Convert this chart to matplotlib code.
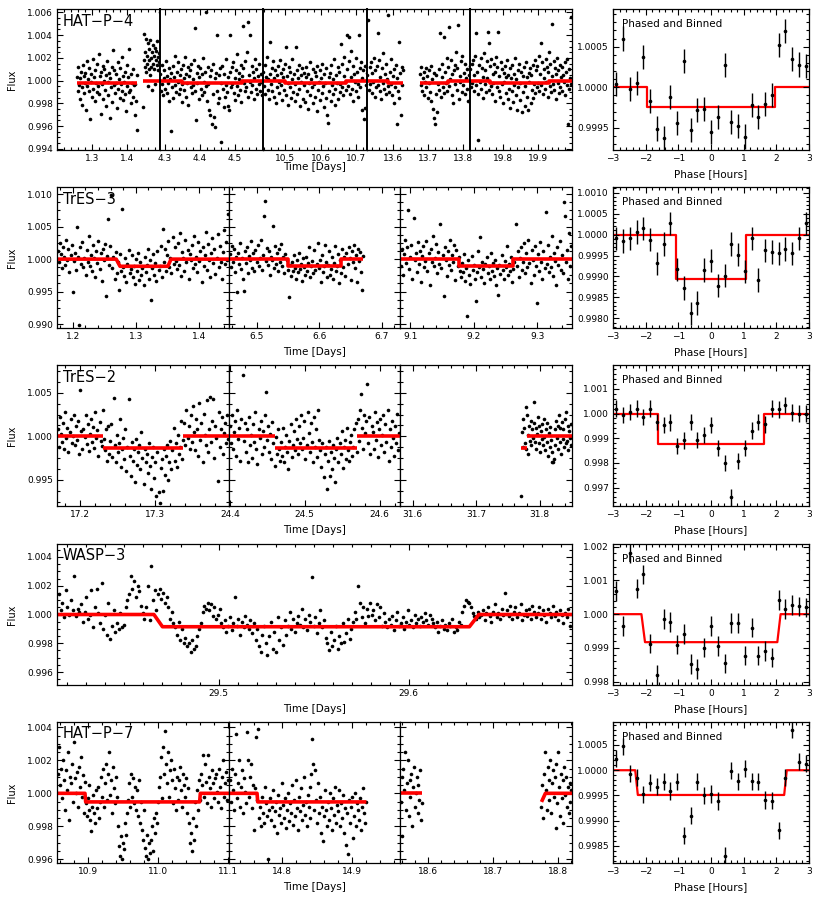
import numpy as np
import matplotlib.pyplot as plt
from matplotlib.ticker import MultipleLocator, AutoMinorLocator, FormatStrFormatter

# ---------------- light curve data: flux offsets from 1.0 in units of 1e-4 ----------------
# HAT-P-4
hatp4_windows = [(1.201, 1.495), (4.286, 4.580), (10.437, 10.731), (13.526, 13.820), (19.705, 19.999)]
hatp4_s1a = ("3 -9 12 -4 -16 2 8 -21 -6 14 4 -11 -2 7 -26 17 -5 1 -9 11 -34 -1 6 -14 19 -7 3 -18 9 -2 "
             "15 -10 -5 23 -12 4 -29 8 -3 13 -16 0 10 -8 -22 5 17 -1 -13 7 -33 2 -6 12 -19 27 -4 9 -11 -2 "
             "6 -24 16 -7 1 -15 11 -3 -9 21 -17 4 -1 -12 8 -27 14 -5 3 -10 28 -8 -20 6 -2 -14 10 -4 -30 -3 -18 5 -43")
hatp4_s1b = "-23 18 41 12 25 8 37 15 22 -5 33 10 28 18 5 36 20 12 -8 25 31 15 22 10 29 -3 18 26 14 35 9 21 16 24 60"
hatp4_s2 = ("6 -9 14 -3 -13 9 2 -7 17 -11 4 -2 -18 11 1 -44 7 -6 13 -15 3 22 -4 -10 8 -1 16 -12 5 -7 "
            "10 -3 -19 14 2 -8 21 -14 6 -2 12 -21 4 9 -6 15 -11 1 -4 18 46 -9 -35 7 -2 13 -16 3 11 -7 "
            "-13 6 20 -1 -10 8 -5 60 -18 12 -3 -26 4 -30 9 -38 15 -12 -32 2 -41 7 -9 40 -20 5 -15 11 -2 -54 "
            "13 -7 -23 6 -14 19 -4 -10 3 -22 -26 8 40 -6 12 -3 16 -11 2 -17 9 23 -5 -13 7 1 -8 14 -19 4 "
            "11 48 -2 -9 17 -6 25 52 -14 5 40 -1 -10 13 -4 8 -16 2 19 -7 10 -12 4 -3 15 -9 6 -1 -13 7")
hatp4_s3 = ("8 -5 14 -12 3 21 -8 1 -16 34 6 -3 11 -9 17 -14 2 9 -20 5 -6 13 -1 -11 18 -4 7 -17 3 10 "
            "-8 15 30 -13 4 -2 -21 12 -6 8 -15 1 19 -10 6 -3 -18 30 9 -12 2 -7 14 -22 5 -1 11 -16 -4 7 "
            "-19 3 12 -9 -25 6 -2 16 -13 1 -6 10 -20 -3 8 -14 4 -27 13 -8 -1 9 -17 2 -11 15 -5 -23 6 -2 "
            "11 -15 -30 -37 3 -9 7 -18 14 -4 -12 1 19 -7 -21 5 -2 12 -16 8 -10 -3 32 -6 15 -13 4 21 -1 -8 "
            "10 40 -5 17 38 -12 3 26 -7 13 -18 6 -1 20 -9 8 -3 -14 40 11 -6 16 -26 2 9 -34 -24 13 -4 7")
hatp4_s4a = ("5 53 -8 12 -3 16 -11 7 -1 20 -14 9 -6 13 42 -4 18 -9 3 -16 11 -2 24 -7 6 -12 15 1 -5 58 "
             "-10 8 -3 19 -13 4 -20 10 -6 14 -38 2 -9 34 -15 7 -30 12 -4 9")
hatp4_s4b = ("6 -4 12 -9 2 8 -13 -1 11 -6 4 -15 9 -2 -10 13 -18 1 -25 7 -33 -38 -12 5 -28 -3 10 -8 42 -14 "
             "3 15 -6 38 -11 8 -2 20 -9 12 47 -5 1 18 -13 6 -20 9 14 -3 25 -8 11 49 -16 4 -1 17 -10 22 "
             "-4 7 -12 15 2 -7 10 -18 5 13")
hatp4_s5 = ("10 -6 15 -2 18 -9 5 22 -4 42 8 -12 -52 14 -1 20 -7 11 3 -15 24 -3 9 -10 17 2 43 33 -8 13 "
            "-5 19 -12 6 -2 15 -18 8 21 -6 12 43 -9 4 -14 16 -3 10 -20 7 -1 13 -11 3 18 -16 5 -7 11 -24 "
            "2 14 -9 -19 6 -4 20 -13 1 -26 9 -6 15 -2 -17 8 -28 4 -10 12 -22 -5 16 -14 3 -26 7 -1 11 -20 "
            "5 -8 14 -15 -3 18 -11 9 -6 13 -2 22 -9 6 33 -4 16 -12 10 2 -7 19 -1 12 -14 8 25 -5 15 -10 "
            "50 4 -3 17 -8 11 -16 6 20 -2 9 -11 14 -6 3 12 -9 5 -1 16 -13 8 -4 19 -38 10 -7 2 56 -3")
hatp4_chunks = [(0, 1.258, 1.430, hatp4_s1a), (0, 1.447, 1.494, hatp4_s1b), (1, 4.287, 4.579, hatp4_s2),
                (2, 10.438, 10.730, hatp4_s3), (3, 13.527, 13.629, hatp4_s4a), (3, 13.677, 13.819, hatp4_s4b),
                (4, 19.706, 19.997, hatp4_s5)]
hatp4_model = [(0, [1.258, 1.430], [0.99975, 0.99975]), (0, [1.447, 1.495], [1.0, 1.0]),
               (1, [4.286, 4.349, 4.349, 4.520, 4.520, 4.580], [1.0, 1.0, 0.99975, 0.99975, 1.0, 1.0]),
               (2, [10.437, 10.500, 10.500, 10.671, 10.671, 10.731], [1.0, 1.0, 0.99975, 0.99975, 1.0, 1.0]),
               (3, [13.526, 13.586, 13.586, 13.629], [1.0, 1.0, 0.99975, 0.99975]),
               (3, [13.677, 13.757, 13.757, 13.820], [0.99975, 0.99975, 1.0, 1.0]),
               (4, [19.705, 19.762, 19.762, 19.934, 19.934, 19.999], [1.0, 1.0, 0.99975, 0.99975, 1.0, 1.0])]

# TrES-3
tres3_windows = [(1.175, 1.448), (6.456, 6.729), (9.084, 9.355)]
tres3_s1 = ("12 -5 25 8 -14 18 3 -9 30 -2 15 -20 6 22 -50 -3 10 -16 50 4 -101 19 -8 27 -12 2 -24 14 -4 35 -10 7 "
            "-18 21 1 -27 12 -6 28 -15 9 -33 16 -1 24 -57 5 62 -9 20 99 -14 3 -30 11 -21 -5 -47 8 -19 77 -12 -26 2 "
            "-35 -8 14 -22 -15 6 -28 -11 -38 0 -18 10 -32 -4 -24 -13 -40 3 -20 -9 16 -30 -2 -63 -14 8 -25 -6 -33 12 -17 -10 "
            "20 -28 47 -4 15 -19 6 28 -12 1 -22 34 -7 18 -3 -15 25 -9 40 -26 11 2 -18 30 -5 14 -31 8 -1 22 -13 36 "
            "-8 4 -20 27 -3 12 -35 19 -10 6 41 -16 24 -2 -27 9 33 -6 16 -23 2 38 -12 20 -4 -30 11 45 -8 27 -1 70")
tres3_s2 = ("8 -12 20 -4 15 -20 3 -50 10 -8 25 -15 1 -30 -49 12 -6 18 -22 5 -2 28 -13 9 -18 14 -5 22 -10 2 30 -16 "
            "6 66 89 -3 17 -9 12 -24 4 -1 51 -14 20 -7 10 -19 15 -4 24 -11 3 -21 8 -2 -16 -58 -9 -26 -4 -18 6 -13 "
            "-30 -2 -20 10 -15 -7 -33 1 -12 -24 4 -19 -6 18 -28 -10 -3 -22 14 -17 -8 25 -14 -1 -35 6 -20 -11 22 -4 -27 -9 "
            "12 -25 -15 3 -31 -6 20 -18 -10 8 -37 -2 -21 15 -12 4 -26 10 -8 18 2 -32 13 -5 22 -14 7 -35 16 -3 11 -20 -48 5")
tres3_s3 = ("-10 15 -25 8 30 -6 18 75 -15 4 22 -30 64 -2 10 -20 26 -8 13 -35 5 20 -12 -3 28 -18 9 -40 16 -5 35 -10 "
            "2 24 -22 11 -7 54 -14 6 -56 19 -1 -26 13 -9 30 -17 7 -4 22 -32 14 -11 3 -18 -28 -6 -20 8 -34 -13 -88 -2 "
            "-24 -38 5 -16 -9 -30 -64 -20 12 -12 34 -27 -4 -15 -36 -8 3 -22 -11 -31 10 -18 -6 -26 -1 -40 -14 -55 -9 -23 6 -17 "
            "-30 -3 -12 20 -25 -8 -19 4 -35 -15 -5 54 -10 12 -28 2 18 -16 -4 25 -22 9 -12 30 -6 -36 14 -2 -25 20 -10 -67 "
            "8 -18 27 -5 -30 12 -14 72 -8 22 -20 4 -12 35 -26 10 -3 -40 18 -9 28 -16 6 -22 88 66 -5 14 -30 40 -11 20")
tres3_chunks = [(0, 1.176, 1.447, tres3_s1), (1, 6.457, 6.670, tres3_s2), (2, 9.085, 9.354, tres3_s3)]
tres3_model = [(0, [1.175, 1.269, 1.275, 1.351, 1.356, 1.448], [1.0, 1.0, 0.9989, 0.9989, 1.0, 1.0]),
               (1, [6.456, 6.550, 6.550, 6.635, 6.635, 6.670], [1.0, 1.0, 0.9989, 0.9989, 1.0, 1.0]),
               (2, [9.084, 9.177, 9.177, 9.262, 9.262, 9.355], [1.0, 1.0, 0.9989, 0.9989, 1.0, 1.0])]

# TrES-2
tres2_windows = [(17.169, 17.399), (24.399, 24.627), (31.580, 31.851)]
tres2_s1 = ("8 -12 22 3 -6 15 -15 28 -2 10 -18 5 20 -8 1 25 -10 12 -4 18 -20 53 6 -14 9 -1 24 -9 14 -17 3 20 "
            "-6 11 -13 28 -2 7 -22 16 -5 -11 30 -3 -16 8 -28 12 -20 -5 14 -24 44 -10 -30 2 -18 -8 20 -35 -14 -2 -26 9 "
            "-40 -12 43 -22 -45 -6 -28 -15 -52 -3 -33 -18 -10 -38 5 -25 -55 -14 -30 -20 -42 -8 -34 -60 -24 -12 -48 -30 -69 -18 -64 -77 "
            "-36 -26 -63 -15 -44 -22 -10 -50 -30 -5 -38 -16 10 -28 -8 -35 2 -20 -12 18 -26 -4 15 -10 30 -2 12 -14 25 -6 35 5 "
            "-16 20 8 -22 38 -4 15 -30 26 2 -10 42 -18 9 45 -6 18 43 -25 12 -2 -51 28 -12 8 22 -20 4 15 -8 25 -3")
tres2_s2 = ("12 -8 25 -15 5 18 -22 30 -3 10 -28 20 71 -5 15 -18 8 -30 22 -10 2 -25 14 -6 28 -14 -32 9 -2 18 -20 6 "
            "-12 24 51 -4 12 -18 3 -26 16 -8 -34 -1 -20 8 -14 -28 -6 -22 10 -30 -12 2 -18 -38 -5 14 -24 -10 6 -16 20 -3 "
            "-20 12 -8 25 -14 -2 18 -26 -10 28 4 -18 15 -6 -30 22 -12 8 -24 30 -4 -16 -35 -8 -47 -20 -12 -60 -28 -5 -45 -18 "
            "-38 -10 -25 -52 -14 -2 -30 -8 -20 6 -36 -12 -4 -26 10 -16 -28 -6 2 -22 -12 8 15 -18 20 -5 30 49 10 -14 25 4 "
            "18 60 -8 22 -20 12 5 -15 28 -4 16 -24 9 20 -10 2 24 -18 14 -6 30 -28 8 -12 18 -2 -22 12 -8 26 -16 4")
tres2_s3 = ("-69 5 -12 20 10 -8 34 -15 25 2 -20 12 -5 18 -10 8 -2 15 40 -6 10 -14 3 22 -8 12 -18 6 -3 14 "
            "-10 20 -1 -16 9 -6 15 -22 4 -12 11 -4 -18 -30 -30 -26 8 -10 18 -2 12 -14 24 -6 10 -20 16 -3 8 -12 "
            "20 -8 28 -5 12 -16 6 -2 14 -10")
tres2_chunks = [(0, 17.170, 17.398, tres2_s1), (1, 24.400, 24.626, tres2_s2), (2, 31.771, 31.850, tres2_s3)]
tres2_model = [(0, [17.169, 17.230], [1.0, 1.0]), (0, [17.230, 17.338], [0.9987, 0.9987]), (0, [17.338, 17.399], [1.0, 1.0]),
               (1, [24.399, 24.460], [1.0, 1.0]), (1, [24.460, 24.570], [0.9987, 0.9987]), (1, [24.570, 24.627], [1.0, 1.0]),
               (2, [31.771, 31.780], [0.9987, 0.9987]), (2, [31.780, 31.851], [1.0, 1.0])]

# WASP-3
wasp3_windows = [(29.415, 29.686)]
wasp3_s1 = ("14 3 8 -2 17 5 0 10 3 27 -1 4 2 7 -5 2 12 -3 0 17 -9 5 18 1 -6 22 -10 0 -14 8 -17 -8 3 -12 -6 -10 1 -9 -7 5 "
            "10 14 27 18 23 12 20 16 6 1 -3 5 20 -4 34 10 17 3 14 18 11 15 8 12 5 -3 2 -6 -9 -14 -5 -18 -10 -20 -16 -22 -20 -26 -18 -24 "
            "-22 -15 -10 -6 2 6 4 8 3 7 -1 5 -3 0 4 -6 -9 -4 -12 -8 -2 -11 -6 12 -8 -3 -14 -5 -9 -1 -7 -10 -4 -13 -6 -18 -10 -22 -26 -14 "
            "-8 -20 -28 -15 -5 -24 -12 -26 -2 -18 -9 -21 -4 -14 -8 2 -10 -3 -12 -6 -1 -7 4 -9 -3 -11 0 -5 26 -8 -2 -13 -6 3 -9 -4 -16 -20 -25 -12 "
            "-22 -18 -8 -24 -15 -20 -6 -19 -13 -3 -17 -10 -5 2 -3 20 8 -2 5 -6 4 -1 8 0 3 -4 7 -2 5 -8 1 -5 -9 -3 -7 -1 -11 -4 2 -8 "
            "-6 -2 -10 -5 3 -7 -4 -9 0 -6 -3 -8 -2 -5 1 -4 -7 0 -3 -6 -9 -5 -12 -8 -4 -10 -7 -11 -6 -8 -3 -12 -9 -11 -5 -7 2 6 10 9 "
            "8 5 1 -1 -3 2 -2 0 3 -4 1 5 -1 -5 2 7 -2 1 -3 4 0 15 3 -1 6 -3 2 5 -2 1 7 -4 0 3 -1 4 -3 6 2 -2 "
            "1 5 -3 3 0 -5 4 1 -2 6 -1 2 -4 3 0 -6 1 -2 4 -8")
wasp3_chunks = [(0, 29.416, 29.685, wasp3_s1)]
wasp3_model = [(0, [29.415, 29.466, 29.4705, 29.632, 29.637, 29.686], [1.0, 1.0, 0.99915, 0.99915, 1.0, 1.0])]

# HAT-P-7
hatp7_windows = [(10.856, 11.102), (14.724, 14.968), (18.557, 18.822)]
hatp7_s1 = ("12 28 5 15 -3 20 8 -10 14 2 25 -16 10 6 18 -5 31 9 0 13 -8 16 4 22 -2 11 -12 7 -6 -14 -3 -10 5 -16 -23 -8 -1 -12 -18 2 "
            "-9 4 -15 -5 10 -2 15 -8 6 18 -4 12 25 -1 8 -12 16 3 -6 10 -2 -20 -32 -38 -26 -40 -30 -34 -18 -25 -12 -4 6 -8 12 -2 9 -6 4 -10 "
            "2 -14 8 -18 -5 -22 -28 -10 -33 -38 -25 -40 -30 -36 -28 -20 -35 -15 -24 -12 -18 -5 4 10 22 -3 28 12 38 18 6 25 -2 14 20 8 -6 15 3 -10 "
            "10 -4 8 16 2 -8 12 5 -2 9 -12 3 -18 -30 -24 -35 -15 -28 -5 -20 2 -10 8 -4 12 5 23 -2 18 7 -6 23 10 3 -8 14 6 -3 9 12 "
            "1 -5 15 4 -9 10 20 -2 6 13 -4 8")
hatp7_s2 = ("8 -5 15 2 -10 12 36 -3 6 20 -8 4 14 -12 9 1 -6 37 20 -2 10 18 -9 5 -22 3 34 -4 39 -15 -8 -20 -2 -12 -18 4 -6 -14 -40 -10 "
            "-3 -16 -8 2 -20 -11 -5 -24 -1 -13 -9 -18 6 -7 -15 -3 -21 -10 0 -17 -6 -12 5 -19 -4 -14 8 -9 -22 -2 -11 3 -16 -7 10 -13 -5 -20 -1 -8 "
            "4 -15 12 33 18 -10 14 -4 -18 6 -12 -2 -24 -8 -29 -14 2 -10 -20 -5 -16 0 -9 -22 -3 -13 4 -18 -7 -11 2 -20 -6 -15 -1 -24 -9 -31 -12 -37 "
            "-4 -18 -8 -2 -27 -14 0 -20 -6 -10 -16 -3 -22 -8 3 -12 -18 -5")
hatp7_s3a = "-5 10 -26 15 2 25 -10 6 20 -14 8 -2 12 -20 4 16 -8 0 10 -12 5 -4 14 -16 -6"
hatp7_s3b = "-8 5 -15 12 25 2 -10 16 8 -4 20 -12 6 14 -2 10 -21 18 -6 25 4 -14 12 -3 8 -18 16 -1 10 -8 4 -12 6 -5 2"
hatp7_chunks = [(0, 10.857, 11.100, hatp7_s1), (1, 14.725, 14.920, hatp7_s2),
                (2, 18.558, 18.591, hatp7_s3a), (2, 18.775, 18.821, hatp7_s3b)]
hatp7_model = [(0, [10.856, 10.896, 10.897, 11.060, 11.061, 11.102], [1.0, 1.0, 0.99948, 0.99948, 1.0, 1.0]),
               (1, [14.724, 14.764, 14.765, 14.920], [1.0, 1.0, 0.99948, 0.99948]),
               (2, [18.557, 18.591], [1.0, 1.0]),
               (2, [18.775, 18.781, 18.822], [0.99948, 1.0, 1.0])]

# ---------------- phased and binned data ----------------
phase_bins = np.linspace(-2.897, 2.897, 29)
hatp4_phase = [1.00004, 1.00060, 0.99998, 1.00005, 1.00037, 0.99983, 0.99949, 0.99937, 0.99988, 0.99956,
               1.00032, 0.99947, 0.99972, 0.99973, 0.99945, 0.99963, 1.00027, 0.99957, 0.99952, 0.99939,
               0.99978, 0.99963, 0.99979, 0.99990, 1.00052, 1.00069, 1.00035, 1.00028, 1.00026]
tres3_phase = [0.99991, 0.99985, 0.99991, 1.00006, 1.00015, 0.99988, 0.99931, 0.99978, 1.00027, 0.99917,
               0.99873, 0.99812, 0.99837, 0.99915, 0.99938, 0.99878, 0.99902, 0.99978, 0.99952, 0.99912,
               0.99991, 0.99892, 0.99962, 0.99958, 0.99955, 0.99965, 0.99955, 0.99991, 1.00027]
tres2_phase = [1.00020, 0.99993, 1.00007, 1.00020, 0.99987, 1.00020, 0.99967, 0.99953, 0.99964, 0.99867,
               0.99891, 0.99967, 0.99893, 0.99913, 0.99953, 0.99860, 0.99800, 0.99660, 0.99807, 0.99860,
               0.99931, 0.99967, 0.99956, 1.00020, 1.00017, 1.00036, 1.00004, 1.00000, 1.00000]
wasp3_phase = [1.00069, 0.99965, 1.00180, 1.00076, 1.00118, 0.99913, 0.99820, 0.99986, 0.99977, 0.99910,
               0.99942, 0.99852, 0.99837, 0.99901, 0.99965, 0.99906, 0.99854, 0.99974, 0.99974, 0.99877,
               0.99960, 0.99877, 0.99891, 0.99871, 1.00042, 1.00016, 1.00027, 1.00023, 1.00020]
hatp7_phase = [1.00023, 1.00047, 0.99993, 0.99985, 0.99952, 0.99975, 0.99967, 0.99977, 0.99959, 0.99977,
               0.99870, 0.99910, 0.99977, 0.99950, 0.99953, 0.99939, 0.99830, 0.99999, 0.99978, 1.00003,
               0.99978, 0.99977, 0.99941, 0.99940, 0.99881, 0.99985, 1.00080, 1.00017, 1.00013]
phase_err = {'HAT-P-4': 0.00015, 'TrES-3': 0.00028, 'TrES-2': 0.00033, 'WASP-3': 0.00029, 'HAT-P-7': 0.00017}
# box models: contact points (hours) and in-transit level
phase_model = {'HAT-P-4': ([-1.95, -1.95, 1.95, 1.95], 0.99976),
               'TrES-3': ([-1.06, -1.06, 1.06, 1.06], 0.99895),
               'TrES-2': ([-1.62, -1.62, 1.62, 1.62], 0.99877),
               'WASP-3': ([-2.13, -2.02, 2.03, 2.13], 0.99917),
               'HAT-P-7': ([-2.32, -2.24, 2.24, 2.32], 0.99951)}


def flux(s):
    return 1.0 + np.array(s.split(), dtype=float) * 1e-4


W, H = 818, 900
PH = 141
fig = plt.figure(figsize=(W / 100, H / 100), dpi=100)


def box(x0, top, w, h):
    return [x0 / W, 1 - (top + h) / H, w / W, h / H]


def style(ax):
    ax.tick_params(which='both', direction='in', top=True, right=True, labelsize=6.5, width=0.8)
    ax.tick_params(which='major', length=4, pad=3)
    ax.tick_params(which='minor', length=2)
    for s in ax.spines.values():
        s.set_linewidth(0.9)


def light_curve(top, edges, windows, chunks, model, ylim, ystep, name, xminor=5, gap=24, plain=False):
    n = len(windows)
    for i, (t0, t1) in enumerate(windows):
        ax = fig.add_axes(box(edges[i], top, edges[i + 1] - edges[i], PH))
        for seg, a, b, s in chunks:
            if seg == i:
                f = flux(s)
                ax.plot(np.linspace(a, b, len(f)), f, 'o', ms=2.6, color='k', mec='none')
        for seg, ts, fs in model:
            if seg == i:
                ax.plot(ts, fs, color='red', lw=2.6, solid_capstyle='butt')
        ax.set_xlim(t0, t1)
        ax.set_ylim(*ylim)
        ax.xaxis.set_major_locator(MultipleLocator(0.1))
        ax.xaxis.set_minor_locator(AutoMinorLocator(xminor))
        ax.xaxis.set_major_formatter(FormatStrFormatter('%.1f'))
        ax.yaxis.set_major_locator(MultipleLocator(ystep))
        ax.yaxis.set_minor_locator(AutoMinorLocator(4))
        ax.yaxis.set_major_formatter(FormatStrFormatter('%.3f'))
        style(ax)
        if i > 0:
            ax.tick_params(labelleft=False)
            if plain:
                ax.tick_params(which='both', left=False)
                ax.spines['left'].set_linewidth(1.4)
        if i < n - 1 and plain:
            ax.tick_params(which='both', right=False)
        if i == 0:
            ax.text(63, H - (top + 12), name.replace('-', '\u2212'), transform=None, fontsize=10.5,
                    va='center', ha='left')
    xc = (edges[0] + edges[-1]) / 2
    fig.text(xc / W, 1 - (top + PH + gap) / H, 'Time [Days]', ha='center', va='center', fontsize=7.5)
    fig.text(12 / W, 1 - (top + PH / 2) / H, 'Flux', rotation=90, ha='center', va='center', fontsize=7)


def phased(top, name, values, ylim, ystep, fmt):
    ax = fig.add_axes(box(613, top, 196, PH))
    (c1, c2, c3, c4), depth = phase_model[name]
    ax.plot([-3, c1, c2, c3, c4, 3], [1, 1, depth, depth, 1, 1], color='red', lw=1.6, zorder=1)
    ax.errorbar(phase_bins, values, yerr=phase_err[name], fmt='o', ms=1.6, color='k',
                elinewidth=1.0, capsize=0, zorder=2)
    ax.set_xlim(-3, 3)
    ax.set_ylim(*ylim)
    ax.xaxis.set_major_locator(MultipleLocator(1))
    ax.xaxis.set_minor_locator(AutoMinorLocator(5))
    ax.yaxis.set_major_locator(MultipleLocator(ystep))
    ax.yaxis.set_minor_locator(AutoMinorLocator(5))
    ax.yaxis.set_major_formatter(FormatStrFormatter(fmt))
    style(ax)
    ax.text(622, H - (top + 15), 'Phased and Binned', transform=None, fontsize=7.5, va='center', ha='left')
    fig.text(711 / W, 1 - (top + PH + 24) / H, 'Phase [Hours]', ha='center', va='center', fontsize=7.5)


light_curve(9, [57, 160, 263, 367, 470, 572], hatp4_windows, hatp4_chunks, hatp4_model,
            (0.9939, 1.0063), 0.002, 'HAT-P-4', gap=17, plain=True)
light_curve(187, [57, 229, 400, 572], tres3_windows, tres3_chunks, tres3_model,
            (0.9894, 1.0111), 0.005, 'TrES-3')
light_curve(365, [57, 229, 400, 572], tres2_windows, tres2_chunks, tres2_model,
            (0.9920, 1.0082), 0.005, 'TrES-2')
light_curve(544, [57, 572], wasp3_windows, wasp3_chunks, wasp3_model,
            (0.9951, 1.0049), 0.002, 'WASP-3', xminor=10)
light_curve(722, [57, 229, 400, 572], hatp7_windows, hatp7_chunks, hatp7_model,
            (0.99578, 1.00432), 0.002, 'HAT-P-7')

phased(9, 'HAT-P-4', hatp4_phase, (0.999225, 1.000965), 0.0005, '%.4f')
phased(187, 'TrES-3', tres3_phase, (0.99777, 1.001135), 0.0005, '%.4f')
phased(365, 'TrES-2', tres2_phase, (0.99625, 1.00197), 0.001, '%.3f')
phased(544, 'WASP-3', wasp3_phase, (0.9979, 1.00208), 0.001, '%.3f')
phased(722, 'HAT-P-7', hatp7_phase, (0.998163, 1.000955), 0.0005, '%.4f')

fig.savefig('out.png', dpi=100)
